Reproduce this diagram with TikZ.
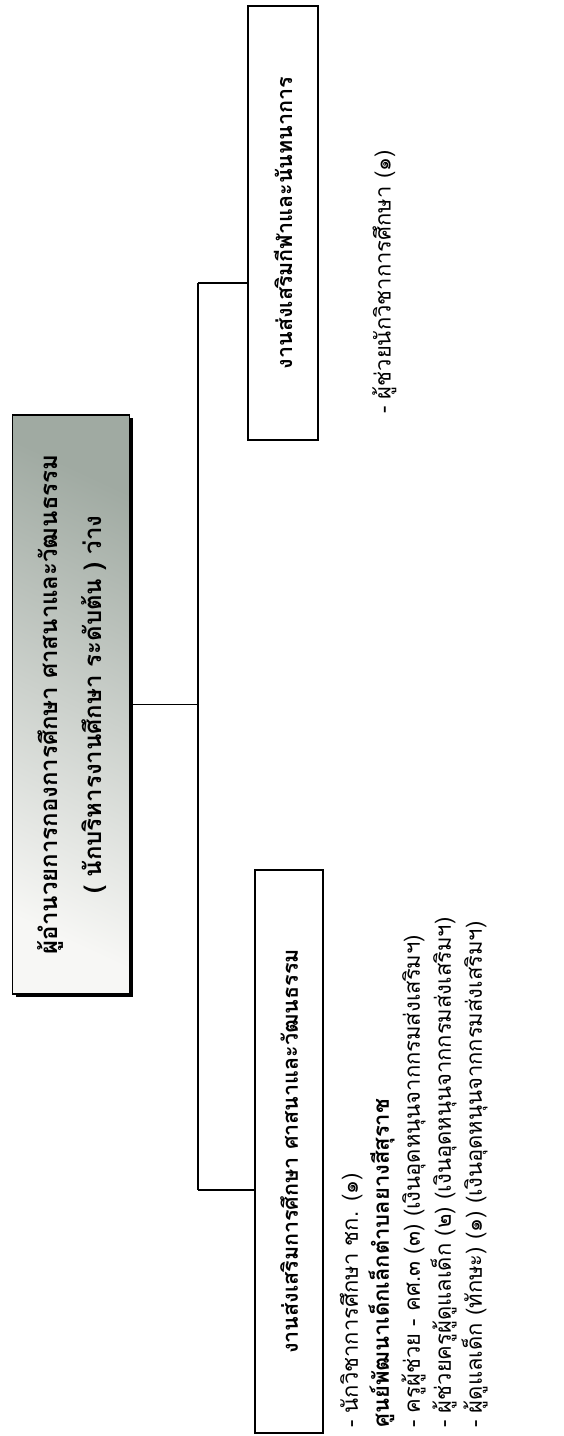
\documentclass[tikz,border=0pt]{standalone}
\usepackage{fontspec}
\setmainfont[Script=Thai]{Loma}
\usepackage{graphicx}
\usetikzlibrary{shadows}
\definecolor{boxgray}{RGB}{160,170,162}
\definecolor{boxlight}{RGB}{247,247,245}
\begin{document}
\begin{tikzpicture}[x=1pt,y=-1pt,
  plainbox/.style={draw=black, line width=2.4pt, fill=white, inner sep=0pt},
  graybox/.style={draw=black, line width=1.8pt, inner sep=0pt,
    top color=boxgray, bottom color=boxlight, shading angle=-25,
    drop shadow={opacity=1, fill=black, shadow xshift=3pt, shadow yshift=-3pt}},
  conn/.style={draw=black, line width=1.9pt},
  titlefont/.style={font=\bfseries\fontsize{21.5}{30}\selectfont},
  headfont/.style={font=\bfseries\fontsize{24}{44}\selectfont},
  listfont/.style={font=\fontsize{22}{31}\selectfont, inner sep=0pt}
]
\useasboundingbox (0,0) rectangle (563,1436);
\fill[white] (0,0) rectangle (563,1436);

% boxes
\node[graybox, headfont, minimum width=117pt, minimum height=579pt] (g) at (71,704.5)
  {\rotatebox{90}{\begin{tabular}{@{}c@{}}ผู้อำนวยการกองการศึกษา ศาสนาและวัฒนธรรม\\( นักบริหารงานศึกษา ระดับต้น ) ว่าง\end{tabular}}};
\node[plainbox, titlefont, minimum width=70pt, minimum height=434pt] (top) at (283,223)
  {\rotatebox{90}{งานส่งเสริมกีฬาและนันทนาการ}};
\node[plainbox, titlefont, minimum width=68pt, minimum height=563pt] (bot) at (289,1151.5)
  {\rotatebox{90}{งานส่งเสริมการศึกษา ศาสนาและวัฒนธรรม}};

% lists
\node[listfont, anchor=south west] (toplist) at (372,414)
  {\rotatebox{90}{- ผู้ช่วยนักวิชาการศึกษา (๑)}};
\node[listfont, anchor=south west] (botlist) at (336,1428)
  {\rotatebox{90}{\begin{tabular}{@{}l@{}}
  - นักวิชาการศึกษา ชก. (๑)\\
  \textbf{ศูนย์พัฒนาเด็กเล็กตำบลยางสีสุราช}\\
  - ครูผู้ช่วย - คศ.๓ (๓) (เงินอุดหนุนจากกรมส่งเสริมฯ)\\
  - ผู้ช่วยครูผู้ดูแลเด็ก (๒) (เงินอุดหนุนจากกรมส่งเสริมฯ)\\
  - ผู้ดูแลเด็ก (ทักษะ) (๑) (เงินอุดหนุนจากกรมส่งเสริมฯ)
  \end{tabular}}};

% connectors
\coordinate (jt) at (198,283);
\coordinate (jb) at (198,1190);
\draw[conn] (g.east) -- (g.east -| jt);
\draw[conn] (jt) -- (jb);
\draw[conn] (jt) -- (jt -| top.west);
\draw[conn] (jb) -- (jb -| bot.west);
\end{tikzpicture}
\end{document}
